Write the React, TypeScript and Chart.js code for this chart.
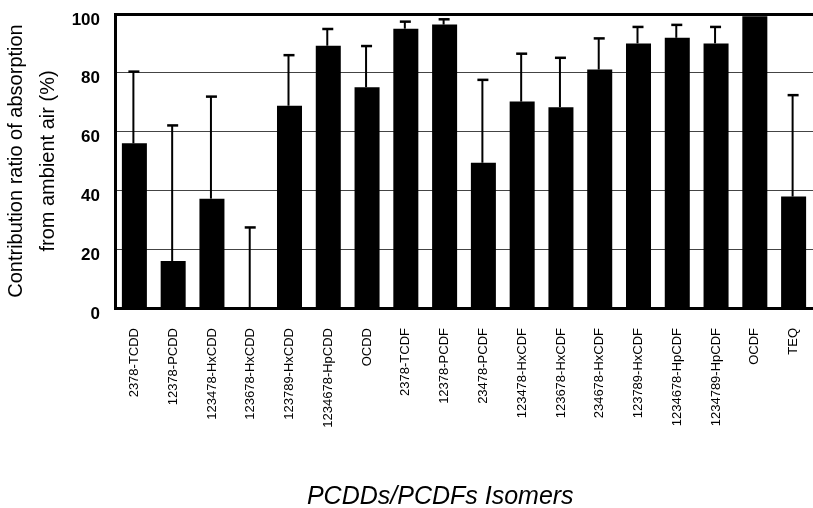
import React, { useEffect, useRef } from "react";
import { Chart, registerables } from "chart.js";

Chart.register(...registerables);

const categories = [
  "2378-TCDD",
  "12378-PCDD",
  "123478-HxCDD",
  "123678-HxCDD",
  "123789-HxCDD",
  "1234678-HpCDD",
  "OCDD",
  "2378-TCDF",
  "12378-PCDF",
  "23478-PCDF",
  "123478-HxCDF",
  "123678-HxCDF",
  "234678-HxCDF",
  "123789-HxCDF",
  "1234678-HpCDF",
  "1234789-HpCDF",
  "OCDF",
  "TEQ",
];

const contributionMean = [56, 16, 37.2, 0, 68.8, 89.2, 75.1, 95, 96.4, 49.4, 70.2, 68.3, 81.1, 90, 91.9, 90, 99.2, 37.9];

const errorTop: (number | null)[] = [80.4, 62.1, 71.9, 27.4, 86, 94.9, 89.1, 97.4, 98.2, 77.6, 86.5, 85.1, 91.7, 95.6, 96.3, 95.6, null, 72.4];

const yTicks = [0, 20, 40, 60, 80, 100];

const yTitleLines = ["Contribution ratio of absorption", "from ambient air (%)"];
const xTitle = "PCDDs/PCDFs Isomers";

const SANS = "'Liberation Sans', Arial, sans-serif";

export default function App() {
  const ref = useRef<HTMLCanvasElement | null>(null);

  useEffect(() => {
    document.body.style.margin = "0";
    const canvas = ref.current;
    if (!canvas) return;

    const errorBars = {
      id: "errorBars",
      afterDatasetsDraw(chart: any) {
        const ctx = chart.ctx;
        const meta = chart.getDatasetMeta(0);
        const y = chart.scales.y;
        ctx.save();
        ctx.strokeStyle = "#000";
        errorTop.forEach((e, i) => {
          if (e == null) return;
          const bar = meta.data[i];
          const x = bar.x - 1;
          const y0 = y.getPixelForValue(contributionMean[i]);
          const y1 = y.getPixelForValue(e);
          ctx.lineWidth = 2;
          ctx.beginPath();
          ctx.moveTo(x, y0);
          ctx.lineTo(x, y1);
          ctx.stroke();
          ctx.lineWidth = 2.5;
          ctx.beginPath();
          ctx.moveTo(x - 5, y1);
          ctx.lineTo(x + 6, y1);
          ctx.stroke();
        });
        ctx.restore();
      },
    };

    const bottomTitle = {
      id: "bottomTitle",
      afterDraw(chart: any) {
        const ctx = chart.ctx;
        const a = chart.chartArea;
        ctx.save();
        ctx.fillStyle = "#000";
        ctx.font = `italic 25px ${SANS}`;
        ctx.textAlign = "center";
        ctx.textBaseline = "middle";
        ctx.fillText(xTitle, a.left + (a.right - a.left) * 0.466, 497);
        ctx.restore();
      },
    };

    const chart = new Chart(canvas, {
      type: "bar",
      data: {
        labels: categories,
        datasets: [
          {
            data: contributionMean,
            backgroundColor: "#000",
            borderWidth: 0,
            barPercentage: 0.645,
            categoryPercentage: 1,
          },
        ],
      },
      options: {
        responsive: false,
        animation: false,
        layout: { padding: { top: 14, left: 0, right: 0, bottom: 0 } },
        plugins: {
          legend: { display: false },
          tooltip: { enabled: false },
          title: { display: false },
        },
        scales: {
          x: {
            offset: true,
            grid: { display: false, drawTicks: false },
            border: { display: true, color: "#000", width: 3 },
            ticks: {
              minRotation: 90,
              maxRotation: 90,
              autoSkip: false,
              padding: 20,
              color: "#000",
              font: { family: SANS, size: 13 },
            },
            afterFit(scale: any) {
              scale.height = 200;
              scale.paddingLeft = 0;
              scale.paddingRight = 0;
            },
          },
          y: {
            min: 0,
            max: 100,
            afterBuildTicks(scale: any) {
              scale.ticks = yTicks.map((v) => ({ value: v }));
            },
            grid: {
              drawTicks: false,
              color: (c: any) => (c.tick && c.tick.value === 100 ? "#000" : "#444"),
              lineWidth: (c: any) => (c.tick && c.tick.value === 100 ? 3 : 1),
            },
            border: { display: true, color: "#000", width: 3 },
            ticks: {
              padding: 15,
              labelOffset: 6,
              color: "#000",
              font: { family: SANS, size: 17, weight: "bold" },
            },
            title: {
              display: true,
              text: yTitleLines,
              color: "#000",
              padding: { top: 0, bottom: 0 },
              font: { family: SANS, size: 20, lineHeight: 1.6 },
            },
            afterFit(scale: any) {
              scale.width = 115;
              scale.paddingTop = 0;
              scale.paddingBottom = 0;
            },
          },
        },
      },
      plugins: [errorBars, bottomTitle],
    });

    return () => chart.destroy();
  }, []);

  return (
    <div style={{ width: 813, height: 508 }}>
      <canvas ref={ref} width={813} height={508} style={{ display: "block" }} />
    </div>
  );
}
